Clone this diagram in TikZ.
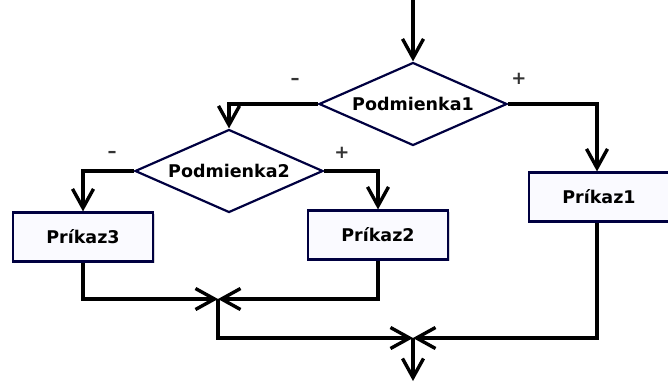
\documentclass[tikz,border=0pt]{standalone}
\usepackage{fontspec}
\setmainfont{DejaVu Sans}
\usetikzlibrary{shapes.geometric,arrows.meta,shadows}

\begin{document}
\begin{tikzpicture}[
    x=1pt, y=-1pt,
    flow/.style={line width=3.4pt, black, -{Straight Barb[length=19pt, width=21pt, line width=3.4pt]}},
    cond/.style={diamond, draw=blue!25!black, line width=2.2pt, fill=white,
      aspect=2.27, inner sep=0pt, minimum width=188pt, minimum height=83pt,
      font=\fontsize{17.5}{20}\selectfont\bfseries},
    cmd/.style={rectangle, draw=blue!25!black, line width=2.2pt, fill=blue!2,
      minimum width=140pt, minimum height=49pt, inner sep=0pt,
      drop shadow={shadow xshift=1.5pt, shadow yshift=-1.5pt, fill=black!30, opacity=0.5},
      font=\fontsize{17.5}{20}\selectfont\bfseries},
    sign/.style={font=\fontsize{18}{20}\selectfont\bfseries, text=black!80}
  ]
  \useasboundingbox (0,0) rectangle (668,383);

  % --- conditions ---
  \node[cond] (cond1) at (413,104) {Podmienka1};
  \node[cond] (cond2) at (229,171) {Podmienka2};

  % --- commands ---
  \node[cmd] (cmd1) at (599,197) {Príkaz1};
  \node[cmd] (cmd2) at (378,235) {Príkaz2};
  \node[cmd] (cmd3) at (83,237) {Príkaz3};

  % --- branch signs ---
  \node[sign] (minus1) at (295,81) {–};
  \node[sign] (plus1) at (519,79) {+};
  \node[sign] (minus2) at (112,154) {–};
  \node[sign] (plus2) at (342,153) {+};

  % --- entry, joins and exit ---
  \coordinate (start) at (413,0);
  \coordinate (join1) at (218,299);
  \coordinate (join2) at (413,338);
  \coordinate (stop) at (413,381);

  % --- connectors ---
  \draw[flow] (start) -- (cond1.north);
  \draw[flow] (cond1.west) -| (cond2.north);
  \draw[flow] (cond1.east) -| ([xshift=-2pt]cmd1.north);
  \draw[flow] (cond2.west) -| (cmd3.north);
  \draw[flow] (cond2.east) -| (cmd2.north);
  \draw[flow] (cmd3.south) |- (join1);
  \draw[flow] (cmd2.south) |- (join1);
  \draw[flow] (join1) |- (join2);
  \draw[flow] ([xshift=-2pt]cmd1.south) |- (join2);
  \draw[flow] (join2) -- (stop);
\end{tikzpicture}
\end{document}
